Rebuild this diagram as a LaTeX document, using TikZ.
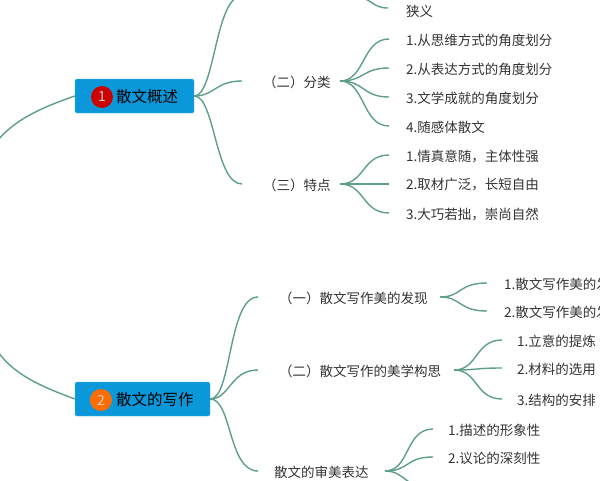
\documentclass[tikz,border=0pt]{standalone}
\usepackage{fontspec}
\setmainfont{Noto Sans CJK SC}
\definecolor{ln}{HTML}{5E9E8C}
\definecolor{bx}{HTML}{0A98DA}
\definecolor{tx}{HTML}{333333}
\begin{document}
\begin{tikzpicture}[x=1pt,y=-1pt,
  link/.style={draw=ln,line width=1.4pt},
  lbl/.style={anchor=west,inner sep=0pt,text=tx,font=\fontsize{13.5}{15}\selectfont},
  topic/.style={fill=bx,draw=bx!70!white,rounded corners=1.5pt,inner sep=0pt,text=black},
  num/.style={circle,inner sep=0pt,minimum size=22pt,text=white!80!black,font=\fontsize{14}{15}\selectfont}]
\useasboundingbox (0,0) rectangle (600,480);
% topics
\node[topic,minimum width=119pt,minimum height=34pt] (t1) at (134.5,96) {};
\node[num,fill=red!80!black] (c1) at (102,97) {1};
\node[anchor=west,inner sep=0pt,font=\fontsize{15.5}{17}\selectfont] (t1l) at (116,97) {散文概述};
\node[topic,minimum width=135pt,minimum height=34pt] (t2) at (142.5,399) {};
\node[num,fill=orange!85!red] (c2) at (101,400) {2};
\node[anchor=west,inner sep=0pt,font=\fontsize{15.5}{17}\selectfont] (t2l) at (116,400) {散文的写作};
\coordinate (o1) at (-2,140);
\coordinate (o2) at (-2,352);
\draw[link] (t1.west) .. controls (40,108) and (15,120) .. (o1);
\draw[link] (t2.west) .. controls (40,386) and (15,375) .. (o2);
% level 2 of topic 1
\node[lbl] (a1) at (265,-7) {（一）概念};
\node[lbl] (a2) at (263,82) {（二）分类};
\node[lbl] (a3) at (263,185) {（三）特点};
\coordinate (a1e) at (242,-4);
\coordinate (a2e) at (242,81);
\coordinate (a3e) at (242,184);
\draw[link] (t1.east) .. controls (215,96) and (215,-4) .. (a1e);
\draw[link] (t1.east) .. controls (215,96) and (215,81) .. (a2e);
\draw[link] (t1.east) .. controls (215,96) and (215,184) .. (a3e);
% 概念 children
\node[lbl] (a1b) at (406,11) {狭义};
\coordinate (a1s) at (355,-4);
\coordinate (a1bt) at (388,8);
\draw[link] (a1s) .. controls (372,-2) and (372,8) .. (a1bt);
% 分类 children
\coordinate (a2s) at (340,81);
\foreach \y/\t/\n in {40/1.从思维方式的角度划分/b1,69/2.从表达方式的角度划分/b2,98/3.文学成就的角度划分/b3,127/4.随感体散文/b4}{
  \node[lbl] (\n) at (406,\y) {\t};
  \coordinate (\n e) at (389,\y-1);
  \draw[link] (a2s) .. controls (365,81) and (362,\y-1) .. (\n e);
}
% 特点 children
\coordinate (a3s) at (340,184);
\foreach \y/\t/\n in {156/1.情真意随，主体性强/d1,185/2.取材广泛，长短自由/d2,214/3.大巧若拙，崇尚自然/d3}{
  \node[lbl] (\n) at (406,\y) {\t};
  \coordinate (\n e) at (389,\y-1);
  \draw[link] (a3s) .. controls (365,184) and (362,\y-1) .. (\n e);
}
% level 2 of topic 2
\node[lbl] (e1) at (279,298) {（一）散文写作美的发现};
\node[lbl] (e2) at (279,371) {（二）散文写作的美学构思};
\node[lbl] (e3) at (274,472) {散文的审美表达};
\coordinate (e1e) at (258,297);
\coordinate (e2e) at (258,370);
\coordinate (e3e) at (258,471);
\draw[link] (t2.east) .. controls (232,399) and (228,297) .. (e1e);
\draw[link] (t2.east) .. controls (230,399) and (230,370) .. (e2e);
\draw[link] (t2.east) .. controls (232,399) and (228,471) .. (e3e);
% e1 children
\coordinate (e1s) at (440,297);
\foreach \y/\t/\n in {284/1.散文写作美的发现/f1,312/2.散文写作美的发现/f2}{
  \node[lbl] (\n) at (504,\y) {\t};
  \coordinate (\n e) at (487,\y-1);
  \draw[link] (e1s) .. controls (462,297) and (458,\y-1) .. (\n e);
}
% e2 children
\coordinate (e2s) at (454,370);
\foreach \y/\t/\n in {341/1.立意的提炼/g1,369/2.材料的选用/g2,400/3.结构的安排/g3}{
  \node[lbl] (\n) at (517,\y) {\t};
  \coordinate (\n e) at (502,\y-1);
  \draw[link] (e2s) .. controls (478,370) and (475,\y-1) .. (\n e);
}
% e3 children
\coordinate (e3s) at (385,471);
\foreach \y/\t/\n in {430/1.描述的形象性/h1,458/2.议论的深刻性/h2}{
  \node[lbl] (\n) at (448,\y) {\t};
  \coordinate (\n e) at (433,\y-1);
  \draw[link] (e3s) .. controls (410,471) and (405,\y-1) .. (\n e);
}
\coordinate (h3e) at (433,490);
\draw[link] (e3s) .. controls (405,471) and (405,488) .. (h3e);
\end{tikzpicture}
\end{document}
